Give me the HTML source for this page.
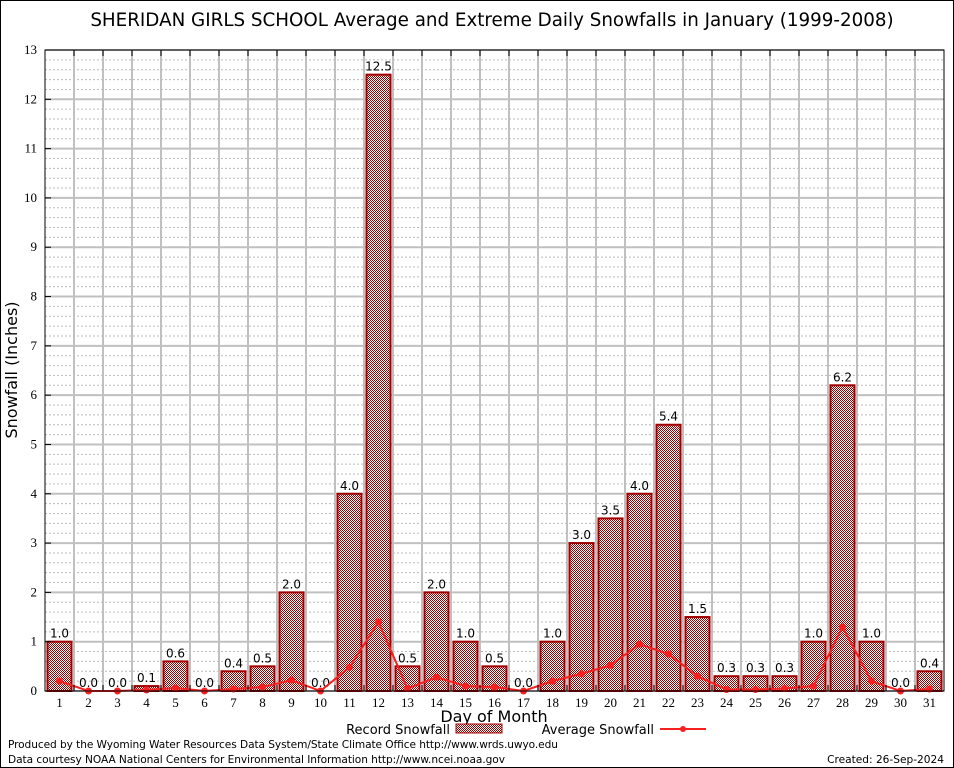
<!DOCTYPE html>
<html><head><meta charset="utf-8"><style>
body{margin:0;background:#fff;}
svg{display:block;font-family:"DejaVu Sans","Liberation Sans",sans-serif;}
</style></head><body>
<svg id="c" width="954" height="768" xmlns="http://www.w3.org/2000/svg">
<defs>
<pattern id="chk" width="2" height="2" patternUnits="userSpaceOnUse">
<rect width="2" height="2" fill="#fff"/><rect width="1" height="1" fill="#a00000"/><rect x="1" y="1" width="1" height="1" fill="#a00000"/>
</pattern>
</defs>
<rect x="0.5" y="0.5" width="953" height="767" fill="#fff" stroke="#000"/>
<text x="492" y="26" font-size="18.3" text-anchor="middle">SHERIDAN GIRLS SCHOOL Average and Extreme Daily Snowfalls in January (1999-2008)</text>
<g id="grid"></g>
<g id="bars"></g>
<g id="avg"></g>
<rect x="45" y="50" width="899" height="641" fill="none" stroke="#000"/>
<g id="axes" font-family="'Liberation Serif',serif" font-size="13"></g>
<text transform="translate(17,370) rotate(-90)" font-size="16" text-anchor="middle">Snowfall (Inches)</text>
<text x="494" y="722" font-size="16" text-anchor="middle">Day of Month</text>
<g>
<text x="450" y="734" font-size="13" text-anchor="end">Record Snowfall</text>
<rect x="456" y="724" width="46" height="9" fill="url(#chk)" stroke="#a00000"/>
</g>
<g>
<text x="654" y="734" font-size="13" text-anchor="end">Average Snowfall</text>
<line x1="660" y1="729" x2="706" y2="729" stroke="#f52020" stroke-width="2"/>
<circle cx="683" cy="729" r="3" fill="#f52020"/>
</g>
<text x="8" y="748" font-size="10.6" textLength="550">Produced by the Wyoming Water Resources Data System/State Climate Office http://www.wrds.uwyo.edu</text>
<text x="8" y="763" font-size="10.6" textLength="497">Data courtesy NOAA National Centers for Environmental Information http://www.ncei.noaa.gov</text>
<text x="944" y="763" font-size="10.6" text-anchor="end">Created:  26-Sep-2024</text>
</svg>
<script>
const days=[1,2,3,4,5,6,7,8,9,10,11,12,13,14,15,16,17,18,19,20,21,22,23,24,25,26,27,28,29,30,31];
const recordVals=[1.0,0.0,0.0,0.1,0.6,0.0,0.4,0.5,2.0,0.0,4.0,12.5,0.5,2.0,1.0,0.5,0.0,1.0,3.0,3.5,4.0,5.4,1.5,0.3,0.3,0.3,1.0,6.2,1.0,0.0,0.4];
const avgVals=[0.2,0.0,0.0,0.02,0.06,0.0,0.04,0.08,0.22,0.0,0.48,1.4,0.05,0.28,0.1,0.08,0.0,0.2,0.35,0.52,0.95,0.75,0.3,0.03,0.03,0.05,0.1,1.3,0.2,0.0,0.04];
const yTicks=[0,1,2,3,4,5,6,7,8,9,10,11,12,13];
const NS='http://www.w3.org/2000/svg';
const L=45,SW=29,Y0=691,YT=50,YMAX=13;
const sx=d=>L+SW*(d-0.5);
const sy=v=>Y0-(Y0-YT)*v/YMAX;
function mk(p,t,a){const e=document.createElementNS(NS,t);for(const k in a)e.setAttribute(k,a[k]);p.appendChild(e);return e;}
const grid=document.getElementById('grid'),bars=document.getElementById('bars'),avg=document.getElementById('avg'),axes=document.getElementById('axes');
for(let v=0.2;v<YMAX;v+=0.2){const r=Math.round(v*10)/10;if(Math.abs(r-Math.round(r))<1e-6)continue;
 const l=mk(grid,'line',{x1:L,x2:L+SW*31,y1:sy(r),y2:sy(r),stroke:'#bbb','stroke-dasharray':'2,2'});
 
 }
yTicks.forEach(t=>{const l=mk(grid,'line',{x1:L,x2:L+SW*31,y1:sy(t),y2:sy(t),stroke:'#c0c0c0','stroke-width':2});
 
 
 const tx=mk(axes,'text',{x:L-8,y:sy(t)+4,'text-anchor':'end'});tx.textContent=t;
 
 
 mk(axes,'line',{x1:L,x2:L+6,y1:sy(t),y2:sy(t),stroke:'#000'});});
for(let i=1;i<31;i++){const x=L+SW*i;const l=mk(grid,'line',{x1:x,x2:x,y1:YT,y2:Y0,stroke:'#c0c0c0','stroke-width':2});
 
 
 mk(axes,'line',{x1:x,x2:x,y1:YT,y2:YT+6,stroke:'#000'});mk(axes,'line',{x1:x,x2:x,y1:Y0,y2:Y0-6,stroke:'#000'});}
days.forEach((d,i)=>{const v=recordVals[i];const x=sx(d);
 if(v>0){const r=mk(bars,'rect',{x:x-12,y:sy(v),width:24,height:Y0-sy(v),fill:'url(#chk)',stroke:'#a00000','stroke-width':2});
  
  }
 const t=mk(bars,'text',{x:x,y:sy(v)-4,'text-anchor':'middle','font-size':12});t.textContent=v.toFixed(1);
 
 
 const tl=mk(axes,'text',{x:x,y:Y0+16,'text-anchor':'middle'});tl.textContent=d;
 
 });
const pl=mk(avg,'polyline',{points:days.map((d,i)=>sx(d)+','+sy(avgVals[i])).join(' '),fill:'none',stroke:'#f52020','stroke-width':2});


days.forEach((d,i)=>{const c=mk(avg,'circle',{cx:sx(d),cy:sy(avgVals[i]),r:3.5,fill:'#f52020'});
 
 });
</script>
</body></html>
